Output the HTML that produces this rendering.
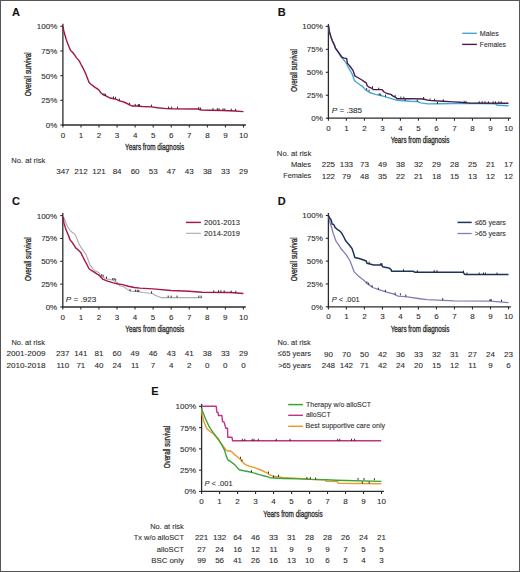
<!DOCTYPE html><html><head><meta charset="utf-8"><style>html,body{margin:0;padding:0;background:#fff;}svg{display:block;}text{stroke:#2e2e2e;stroke-width:0.1px;}</style></head><body>
<svg width="520" height="572" viewBox="0 0 520 572" font-family='"Liberation Sans", sans-serif'>
<rect x="0" y="0" width="520" height="572" fill="#fff"/>
<text x="12" y="15.9" font-size="11" font-weight="bold" fill="#111">A</text>
<line x1="62.9" y1="23.8" x2="62.9" y2="125.6" stroke="#2b2b2b" stroke-width="1.3"/>
<line x1="62.3" y1="125.0" x2="245.9" y2="125.0" stroke="#2b2b2b" stroke-width="1.3"/>
<line x1="60.3" y1="26.30" x2="62.9" y2="26.30" stroke="#2b2b2b" stroke-width="1.1"/>
<text x="57.3" y="29.2" font-size="8" text-anchor="end" fill="#2e2e2e">100%</text>
<line x1="60.3" y1="50.98" x2="62.9" y2="50.98" stroke="#2b2b2b" stroke-width="1.1"/>
<text x="57.3" y="53.88" font-size="8" text-anchor="end" fill="#2e2e2e">75%</text>
<line x1="60.3" y1="75.65" x2="62.9" y2="75.65" stroke="#2b2b2b" stroke-width="1.1"/>
<text x="57.3" y="78.55" font-size="8" text-anchor="end" fill="#2e2e2e">50%</text>
<line x1="60.3" y1="100.33" x2="62.9" y2="100.33" stroke="#2b2b2b" stroke-width="1.1"/>
<text x="57.3" y="103.23" font-size="8" text-anchor="end" fill="#2e2e2e">25%</text>
<line x1="60.3" y1="125.00" x2="62.9" y2="125.00" stroke="#2b2b2b" stroke-width="1.1"/>
<text x="57.3" y="127.9" font-size="8" text-anchor="end" fill="#2e2e2e">0%</text>
<line x1="62.90" y1="125.0" x2="62.90" y2="127.6" stroke="#2b2b2b" stroke-width="1.1"/>
<text x="62.9" y="137.6" font-size="8" text-anchor="middle" fill="#2e2e2e">0</text>
<line x1="80.96" y1="125.0" x2="80.96" y2="127.6" stroke="#2b2b2b" stroke-width="1.1"/>
<text x="80.96" y="137.6" font-size="8" text-anchor="middle" fill="#2e2e2e">1</text>
<line x1="99.02" y1="125.0" x2="99.02" y2="127.6" stroke="#2b2b2b" stroke-width="1.1"/>
<text x="99.02" y="137.6" font-size="8" text-anchor="middle" fill="#2e2e2e">2</text>
<line x1="117.08" y1="125.0" x2="117.08" y2="127.6" stroke="#2b2b2b" stroke-width="1.1"/>
<text x="117.08" y="137.6" font-size="8" text-anchor="middle" fill="#2e2e2e">3</text>
<line x1="135.14" y1="125.0" x2="135.14" y2="127.6" stroke="#2b2b2b" stroke-width="1.1"/>
<text x="135.14" y="137.6" font-size="8" text-anchor="middle" fill="#2e2e2e">4</text>
<line x1="153.20" y1="125.0" x2="153.20" y2="127.6" stroke="#2b2b2b" stroke-width="1.1"/>
<text x="153.2" y="137.6" font-size="8" text-anchor="middle" fill="#2e2e2e">5</text>
<line x1="171.26" y1="125.0" x2="171.26" y2="127.6" stroke="#2b2b2b" stroke-width="1.1"/>
<text x="171.26" y="137.6" font-size="8" text-anchor="middle" fill="#2e2e2e">6</text>
<line x1="189.32" y1="125.0" x2="189.32" y2="127.6" stroke="#2b2b2b" stroke-width="1.1"/>
<text x="189.32" y="137.6" font-size="8" text-anchor="middle" fill="#2e2e2e">7</text>
<line x1="207.38" y1="125.0" x2="207.38" y2="127.6" stroke="#2b2b2b" stroke-width="1.1"/>
<text x="207.38" y="137.6" font-size="8" text-anchor="middle" fill="#2e2e2e">8</text>
<line x1="225.44" y1="125.0" x2="225.44" y2="127.6" stroke="#2b2b2b" stroke-width="1.1"/>
<text x="225.44" y="137.6" font-size="8" text-anchor="middle" fill="#2e2e2e">9</text>
<line x1="243.50" y1="125.0" x2="243.50" y2="127.6" stroke="#2b2b2b" stroke-width="1.1"/>
<text x="243.5" y="137.6" font-size="8" text-anchor="middle" fill="#2e2e2e">10</text>
<text x="125.06" y="150.2" font-size="9.3" textLength="59.17" lengthAdjust="spacingAndGlyphs" fill="#2e2e2e" style="stroke-width:0.35px">Years from diagnosis</text>
<text transform="translate(30.8,96) rotate(-90)" x="-0.30" y="0" font-size="9.3" textLength="44.03" lengthAdjust="spacingAndGlyphs" fill="#2e2e2e" style="stroke-width:0.35px">Overall survival</text>
<polyline points="63.00,26.50 63.40,28.50 63.70,30.70 64.80,34.50 66.30,39.80 67.70,43.60 69.10,47.00 70.60,50.40 72.50,52.30 74.40,54.70 76.30,57.60 79.20,60.90 81.20,64.80 83.10,68.20 85.80,73.90 89.10,82.60 90.60,84.00 94.40,86.90 98.80,89.80 100.70,92.70 103.10,94.60 106.90,96.30 109.80,98.00 112.70,98.50 116.50,99.40 119.40,100.90 123.30,101.80 125.00,102.50 129.60,104.80 131.90,106.00 136.50,106.00 142.30,106.50 151.50,106.90 157.30,107.70 166.50,108.60 171.10,108.80 197.50,109.00 201.30,110.00 210.00,110.25 222.50,110.50 235.00,111.00 243.50,111.60" fill="none" stroke="#a0183f" stroke-width="1.4" stroke-linejoin="round" stroke-linecap="butt"/>
<line x1="104" y1="95.3" x2="104" y2="93.3" stroke="#1a1a1a" stroke-width="0.9"/>
<line x1="105.5" y1="95.9" x2="105.5" y2="93.9" stroke="#1a1a1a" stroke-width="0.9"/>
<line x1="113.5" y1="98.4" x2="113.5" y2="96.4" stroke="#1a1a1a" stroke-width="0.9"/>
<line x1="115.5" y1="98.8" x2="115.5" y2="96.8" stroke="#1a1a1a" stroke-width="0.9"/>
<line x1="119.4" y1="100.6" x2="119.4" y2="98.6" stroke="#1a1a1a" stroke-width="0.9"/>
<line x1="129.6" y1="104.6" x2="129.6" y2="102.6" stroke="#1a1a1a" stroke-width="0.9"/>
<line x1="135.2" y1="105.9" x2="135.2" y2="103.9" stroke="#1a1a1a" stroke-width="0.9"/>
<line x1="138.3" y1="106" x2="138.3" y2="104.0" stroke="#1a1a1a" stroke-width="0.9"/>
<line x1="139.4" y1="106.1" x2="139.4" y2="104.1" stroke="#1a1a1a" stroke-width="0.9"/>
<line x1="151.5" y1="106.7" x2="151.5" y2="104.7" stroke="#1a1a1a" stroke-width="0.9"/>
<line x1="168.6" y1="108.5" x2="168.6" y2="106.5" stroke="#1a1a1a" stroke-width="0.9"/>
<line x1="171.7" y1="108.6" x2="171.7" y2="106.6" stroke="#1a1a1a" stroke-width="0.9"/>
<line x1="177.5" y1="108.7" x2="177.5" y2="106.7" stroke="#1a1a1a" stroke-width="0.9"/>
<line x1="198.8" y1="109" x2="198.8" y2="107.0" stroke="#1a1a1a" stroke-width="0.9"/>
<line x1="200.6" y1="109.5" x2="200.6" y2="107.5" stroke="#1a1a1a" stroke-width="0.9"/>
<line x1="213" y1="110.1" x2="213" y2="108.1" stroke="#1a1a1a" stroke-width="0.9"/>
<line x1="217.3" y1="110.2" x2="217.3" y2="108.2" stroke="#1a1a1a" stroke-width="0.9"/>
<line x1="219" y1="110.2" x2="219" y2="108.2" stroke="#1a1a1a" stroke-width="0.9"/>
<line x1="223" y1="110.3" x2="223" y2="108.3" stroke="#1a1a1a" stroke-width="0.9"/>
<line x1="224.8" y1="110.4" x2="224.8" y2="108.4" stroke="#1a1a1a" stroke-width="0.9"/>
<line x1="231.3" y1="110.7" x2="231.3" y2="108.7" stroke="#1a1a1a" stroke-width="0.9"/>
<line x1="235.6" y1="110.9" x2="235.6" y2="108.9" stroke="#1a1a1a" stroke-width="0.9"/>
<text x="11.28" y="162.7" font-size="8" textLength="34.11" lengthAdjust="spacingAndGlyphs" fill="#2e2e2e">No. at risk</text>
<text x="62.9" y="174.2" font-size="8" text-anchor="middle" fill="#2e2e2e">347</text>
<text x="80.96" y="174.2" font-size="8" text-anchor="middle" fill="#2e2e2e">212</text>
<text x="99.02" y="174.2" font-size="8" text-anchor="middle" fill="#2e2e2e">121</text>
<text x="117.08" y="174.2" font-size="8" text-anchor="middle" fill="#2e2e2e">84</text>
<text x="135.14" y="174.2" font-size="8" text-anchor="middle" fill="#2e2e2e">60</text>
<text x="153.2" y="174.2" font-size="8" text-anchor="middle" fill="#2e2e2e">53</text>
<text x="171.26" y="174.2" font-size="8" text-anchor="middle" fill="#2e2e2e">47</text>
<text x="189.32" y="174.2" font-size="8" text-anchor="middle" fill="#2e2e2e">43</text>
<text x="207.38" y="174.2" font-size="8" text-anchor="middle" fill="#2e2e2e">38</text>
<text x="225.44" y="174.2" font-size="8" text-anchor="middle" fill="#2e2e2e">33</text>
<text x="243.5" y="174.2" font-size="8" text-anchor="middle" fill="#2e2e2e">29</text>
<text x="277.8" y="16.1" font-size="11" font-weight="bold" fill="#111">B</text>
<line x1="328.4" y1="23.9" x2="328.4" y2="118.8" stroke="#2b2b2b" stroke-width="1.3"/>
<line x1="327.79999999999995" y1="118.2" x2="510.9" y2="118.2" stroke="#2b2b2b" stroke-width="1.3"/>
<line x1="325.79999999999995" y1="26.40" x2="328.4" y2="26.40" stroke="#2b2b2b" stroke-width="1.1"/>
<text x="322.8" y="29.3" font-size="8" text-anchor="end" fill="#2e2e2e">100%</text>
<line x1="325.79999999999995" y1="49.35" x2="328.4" y2="49.35" stroke="#2b2b2b" stroke-width="1.1"/>
<text x="322.8" y="52.25" font-size="8" text-anchor="end" fill="#2e2e2e">75%</text>
<line x1="325.79999999999995" y1="72.30" x2="328.4" y2="72.30" stroke="#2b2b2b" stroke-width="1.1"/>
<text x="322.8" y="75.2" font-size="8" text-anchor="end" fill="#2e2e2e">50%</text>
<line x1="325.79999999999995" y1="95.25" x2="328.4" y2="95.25" stroke="#2b2b2b" stroke-width="1.1"/>
<text x="322.8" y="98.15" font-size="8" text-anchor="end" fill="#2e2e2e">25%</text>
<line x1="325.79999999999995" y1="118.20" x2="328.4" y2="118.20" stroke="#2b2b2b" stroke-width="1.1"/>
<text x="322.8" y="121.1" font-size="8" text-anchor="end" fill="#2e2e2e">0%</text>
<line x1="328.40" y1="118.2" x2="328.40" y2="120.8" stroke="#2b2b2b" stroke-width="1.1"/>
<text x="328.4" y="130.8" font-size="8" text-anchor="middle" fill="#2e2e2e">0</text>
<line x1="346.41" y1="118.2" x2="346.41" y2="120.8" stroke="#2b2b2b" stroke-width="1.1"/>
<text x="346.41" y="130.8" font-size="8" text-anchor="middle" fill="#2e2e2e">1</text>
<line x1="364.42" y1="118.2" x2="364.42" y2="120.8" stroke="#2b2b2b" stroke-width="1.1"/>
<text x="364.42" y="130.8" font-size="8" text-anchor="middle" fill="#2e2e2e">2</text>
<line x1="382.43" y1="118.2" x2="382.43" y2="120.8" stroke="#2b2b2b" stroke-width="1.1"/>
<text x="382.43" y="130.8" font-size="8" text-anchor="middle" fill="#2e2e2e">3</text>
<line x1="400.44" y1="118.2" x2="400.44" y2="120.8" stroke="#2b2b2b" stroke-width="1.1"/>
<text x="400.44" y="130.8" font-size="8" text-anchor="middle" fill="#2e2e2e">4</text>
<line x1="418.45" y1="118.2" x2="418.45" y2="120.8" stroke="#2b2b2b" stroke-width="1.1"/>
<text x="418.45" y="130.8" font-size="8" text-anchor="middle" fill="#2e2e2e">5</text>
<line x1="436.46" y1="118.2" x2="436.46" y2="120.8" stroke="#2b2b2b" stroke-width="1.1"/>
<text x="436.46" y="130.8" font-size="8" text-anchor="middle" fill="#2e2e2e">6</text>
<line x1="454.47" y1="118.2" x2="454.47" y2="120.8" stroke="#2b2b2b" stroke-width="1.1"/>
<text x="454.47" y="130.8" font-size="8" text-anchor="middle" fill="#2e2e2e">7</text>
<line x1="472.48" y1="118.2" x2="472.48" y2="120.8" stroke="#2b2b2b" stroke-width="1.1"/>
<text x="472.48" y="130.8" font-size="8" text-anchor="middle" fill="#2e2e2e">8</text>
<line x1="490.49" y1="118.2" x2="490.49" y2="120.8" stroke="#2b2b2b" stroke-width="1.1"/>
<text x="490.49" y="130.8" font-size="8" text-anchor="middle" fill="#2e2e2e">9</text>
<line x1="508.50" y1="118.2" x2="508.50" y2="120.8" stroke="#2b2b2b" stroke-width="1.1"/>
<text x="508.5" y="130.8" font-size="8" text-anchor="middle" fill="#2e2e2e">10</text>
<text x="390.66" y="143.2" font-size="9.3" textLength="58.77" lengthAdjust="spacingAndGlyphs" fill="#2e2e2e" style="stroke-width:0.35px">Years from diagnosis</text>
<text transform="translate(296.9,91.5) rotate(-90)" x="-0.29" y="0" font-size="9.3" textLength="42.60" lengthAdjust="spacingAndGlyphs" fill="#2e2e2e" style="stroke-width:0.35px">Overall survival</text>
<polyline points="328.60,26.00 329.20,31.50 330.80,36.40 332.30,40.75 334.20,44.60 335.60,48.40 337.50,51.50 340.00,55.50 342.50,58.50 344.50,60.80 346.20,63.20 348.50,67.70 351.90,73.50 354.20,79.80 355.40,81.50 360.00,84.80 362.90,86.70 365.80,90.10 369.60,92.50 375.40,94.40 382.10,95.90 388.80,97.80 396.50,100.20 403.30,100.70 410.00,101.20 417.30,101.50 420.80,102.90 427.70,103.90 440.00,103.80 453.00,103.60 480.00,103.50 495.00,103.70 497.50,105.30 508.50,105.70" fill="none" stroke="#40a8da" stroke-width="1.4" stroke-linejoin="round" stroke-linecap="butt"/>
<polyline points="328.60,26.00 329.40,31.60 330.80,36.40 332.30,40.75 334.20,44.60 335.60,48.40 337.50,50.80 339.90,54.20 341.90,57.10 344.30,58.10 346.70,58.50 347.30,63.10 350.20,66.50 353.10,70.60 354.80,75.80 357.70,77.50 361.90,80.00 363.80,81.40 366.30,82.90 367.20,85.80 369.10,87.20 371.50,88.20 373.50,89.60 382.10,89.60 384.00,92.00 386.90,93.50 390.80,94.40 392.70,95.90 395.60,97.30 397.00,98.75 410.00,98.60 423.00,99.00 428.80,100.40 442.70,101.30 453.00,101.90 460.00,102.30 470.00,103.10 508.50,103.30" fill="none" stroke="#4a1c4c" stroke-width="1.4" stroke-linejoin="round" stroke-linecap="butt"/>
<line x1="372.5" y1="88.2" x2="372.5" y2="86.2" stroke="#1a1a1a" stroke-width="0.9"/>
<line x1="378.75" y1="89.6" x2="378.75" y2="87.6" stroke="#1a1a1a" stroke-width="0.9"/>
<line x1="395.1" y1="96.9" x2="395.1" y2="94.9" stroke="#1a1a1a" stroke-width="0.9"/>
<line x1="400.9" y1="98.5" x2="400.9" y2="96.5" stroke="#1a1a1a" stroke-width="0.9"/>
<line x1="403.8" y1="98.6" x2="403.8" y2="96.6" stroke="#1a1a1a" stroke-width="0.9"/>
<line x1="423.6" y1="99" x2="423.6" y2="97.0" stroke="#1a1a1a" stroke-width="0.9"/>
<line x1="430" y1="100.4" x2="430" y2="98.4" stroke="#1a1a1a" stroke-width="0.9"/>
<line x1="434.6" y1="100.7" x2="434.6" y2="98.7" stroke="#1a1a1a" stroke-width="0.9"/>
<line x1="443.3" y1="101.3" x2="443.3" y2="99.3" stroke="#1a1a1a" stroke-width="0.9"/>
<line x1="464.2" y1="102.8" x2="464.2" y2="100.8" stroke="#1a1a1a" stroke-width="0.9"/>
<line x1="466" y1="102.9" x2="466" y2="100.9" stroke="#1a1a1a" stroke-width="0.9"/>
<line x1="479.2" y1="103.2" x2="479.2" y2="101.2" stroke="#1a1a1a" stroke-width="0.9"/>
<line x1="482.1" y1="103.2" x2="482.1" y2="101.2" stroke="#1a1a1a" stroke-width="0.9"/>
<line x1="485" y1="103.2" x2="485" y2="101.2" stroke="#1a1a1a" stroke-width="0.9"/>
<line x1="488.4" y1="103.3" x2="488.4" y2="101.3" stroke="#1a1a1a" stroke-width="0.9"/>
<line x1="493.1" y1="103.3" x2="493.1" y2="101.3" stroke="#1a1a1a" stroke-width="0.9"/>
<line x1="495.4" y1="103.3" x2="495.4" y2="101.3" stroke="#1a1a1a" stroke-width="0.9"/>
<line x1="498.8" y1="103.3" x2="498.8" y2="101.3" stroke="#1a1a1a" stroke-width="0.9"/>
<line x1="501.1" y1="103.3" x2="501.1" y2="101.3" stroke="#1a1a1a" stroke-width="0.9"/>
<line x1="366.7" y1="90.1" x2="366.7" y2="88.1" stroke="#1a1a1a" stroke-width="0.9"/>
<line x1="369.1" y1="91.6" x2="369.1" y2="89.6" stroke="#1a1a1a" stroke-width="0.9"/>
<line x1="379.2" y1="95.3" x2="379.2" y2="93.3" stroke="#1a1a1a" stroke-width="0.9"/>
<line x1="380.7" y1="95.6" x2="380.7" y2="93.6" stroke="#1a1a1a" stroke-width="0.9"/>
<line x1="385.5" y1="96.7" x2="385.5" y2="94.7" stroke="#1a1a1a" stroke-width="0.9"/>
<line x1="405.2" y1="100.8" x2="405.2" y2="98.8" stroke="#1a1a1a" stroke-width="0.9"/>
<line x1="417.3" y1="101.5" x2="417.3" y2="99.5" stroke="#1a1a1a" stroke-width="0.9"/>
<line x1="437.5" y1="103.8" x2="437.5" y2="101.8" stroke="#1a1a1a" stroke-width="0.9"/>
<line x1="462.2" y1="33.3" x2="476.9" y2="33.3" stroke="#40a8da" stroke-width="1.4"/>
<line x1="462.2" y1="44.4" x2="476.9" y2="44.4" stroke="#4a1c4c" stroke-width="1.4"/>
<text x="479.81" y="35.6" font-size="7.4" textLength="19.04" lengthAdjust="spacingAndGlyphs" fill="#2e2e2e">Males</text>
<text x="479.84" y="46.6" font-size="7.4" textLength="26.1" lengthAdjust="spacingAndGlyphs" fill="#2e2e2e">Females</text>
<text x="331.76" y="112.9" font-size="8" textLength="30.37" lengthAdjust="spacingAndGlyphs" fill="#2e2e2e"><tspan font-style="italic">P</tspan> = .385</text>
<text x="276.87" y="155.5" font-size="8" textLength="34.41" lengthAdjust="spacingAndGlyphs" fill="#2e2e2e">No. at risk</text>
<text x="290.88" y="167.0" font-size="8" textLength="20.19" lengthAdjust="spacingAndGlyphs" fill="#2e2e2e">Males</text>
<text x="283.2" y="178.4" font-size="8" textLength="28.06" lengthAdjust="spacingAndGlyphs" fill="#2e2e2e">Females</text>
<text x="328.4" y="167.1" font-size="8" text-anchor="middle" fill="#2e2e2e">225</text>
<text x="346.41" y="167.1" font-size="8" text-anchor="middle" fill="#2e2e2e">133</text>
<text x="364.42" y="167.1" font-size="8" text-anchor="middle" fill="#2e2e2e">73</text>
<text x="382.43" y="167.1" font-size="8" text-anchor="middle" fill="#2e2e2e">49</text>
<text x="400.44" y="167.1" font-size="8" text-anchor="middle" fill="#2e2e2e">38</text>
<text x="418.45" y="167.1" font-size="8" text-anchor="middle" fill="#2e2e2e">32</text>
<text x="436.46" y="167.1" font-size="8" text-anchor="middle" fill="#2e2e2e">29</text>
<text x="454.47" y="167.1" font-size="8" text-anchor="middle" fill="#2e2e2e">28</text>
<text x="472.48" y="167.1" font-size="8" text-anchor="middle" fill="#2e2e2e">25</text>
<text x="490.49" y="167.1" font-size="8" text-anchor="middle" fill="#2e2e2e">21</text>
<text x="508.5" y="167.1" font-size="8" text-anchor="middle" fill="#2e2e2e">17</text>
<text x="328.4" y="178.5" font-size="8" text-anchor="middle" fill="#2e2e2e">122</text>
<text x="346.41" y="178.5" font-size="8" text-anchor="middle" fill="#2e2e2e">79</text>
<text x="364.42" y="178.5" font-size="8" text-anchor="middle" fill="#2e2e2e">48</text>
<text x="382.43" y="178.5" font-size="8" text-anchor="middle" fill="#2e2e2e">35</text>
<text x="400.44" y="178.5" font-size="8" text-anchor="middle" fill="#2e2e2e">22</text>
<text x="418.45" y="178.5" font-size="8" text-anchor="middle" fill="#2e2e2e">21</text>
<text x="436.46" y="178.5" font-size="8" text-anchor="middle" fill="#2e2e2e">18</text>
<text x="454.47" y="178.5" font-size="8" text-anchor="middle" fill="#2e2e2e">15</text>
<text x="472.48" y="178.5" font-size="8" text-anchor="middle" fill="#2e2e2e">13</text>
<text x="490.49" y="178.5" font-size="8" text-anchor="middle" fill="#2e2e2e">12</text>
<text x="508.5" y="178.5" font-size="8" text-anchor="middle" fill="#2e2e2e">12</text>
<text x="12" y="205.3" font-size="11" font-weight="bold" fill="#111">C</text>
<line x1="62.8" y1="213.1" x2="62.8" y2="307.6" stroke="#2b2b2b" stroke-width="1.3"/>
<line x1="62.199999999999996" y1="307.0" x2="245.8" y2="307.0" stroke="#2b2b2b" stroke-width="1.3"/>
<line x1="60.199999999999996" y1="215.60" x2="62.8" y2="215.60" stroke="#2b2b2b" stroke-width="1.1"/>
<text x="57.2" y="218.5" font-size="8" text-anchor="end" fill="#2e2e2e">100%</text>
<line x1="60.199999999999996" y1="238.45" x2="62.8" y2="238.45" stroke="#2b2b2b" stroke-width="1.1"/>
<text x="57.2" y="241.35" font-size="8" text-anchor="end" fill="#2e2e2e">75%</text>
<line x1="60.199999999999996" y1="261.30" x2="62.8" y2="261.30" stroke="#2b2b2b" stroke-width="1.1"/>
<text x="57.2" y="264.2" font-size="8" text-anchor="end" fill="#2e2e2e">50%</text>
<line x1="60.199999999999996" y1="284.15" x2="62.8" y2="284.15" stroke="#2b2b2b" stroke-width="1.1"/>
<text x="57.2" y="287.05" font-size="8" text-anchor="end" fill="#2e2e2e">25%</text>
<line x1="60.199999999999996" y1="307.00" x2="62.8" y2="307.00" stroke="#2b2b2b" stroke-width="1.1"/>
<text x="57.2" y="309.9" font-size="8" text-anchor="end" fill="#2e2e2e">0%</text>
<line x1="62.80" y1="307.0" x2="62.80" y2="309.6" stroke="#2b2b2b" stroke-width="1.1"/>
<text x="62.8" y="319.6" font-size="8" text-anchor="middle" fill="#2e2e2e">0</text>
<line x1="80.86" y1="307.0" x2="80.86" y2="309.6" stroke="#2b2b2b" stroke-width="1.1"/>
<text x="80.86" y="319.6" font-size="8" text-anchor="middle" fill="#2e2e2e">1</text>
<line x1="98.92" y1="307.0" x2="98.92" y2="309.6" stroke="#2b2b2b" stroke-width="1.1"/>
<text x="98.92" y="319.6" font-size="8" text-anchor="middle" fill="#2e2e2e">2</text>
<line x1="116.98" y1="307.0" x2="116.98" y2="309.6" stroke="#2b2b2b" stroke-width="1.1"/>
<text x="116.98" y="319.6" font-size="8" text-anchor="middle" fill="#2e2e2e">3</text>
<line x1="135.04" y1="307.0" x2="135.04" y2="309.6" stroke="#2b2b2b" stroke-width="1.1"/>
<text x="135.04" y="319.6" font-size="8" text-anchor="middle" fill="#2e2e2e">4</text>
<line x1="153.10" y1="307.0" x2="153.10" y2="309.6" stroke="#2b2b2b" stroke-width="1.1"/>
<text x="153.1" y="319.6" font-size="8" text-anchor="middle" fill="#2e2e2e">5</text>
<line x1="171.16" y1="307.0" x2="171.16" y2="309.6" stroke="#2b2b2b" stroke-width="1.1"/>
<text x="171.16" y="319.6" font-size="8" text-anchor="middle" fill="#2e2e2e">6</text>
<line x1="189.22" y1="307.0" x2="189.22" y2="309.6" stroke="#2b2b2b" stroke-width="1.1"/>
<text x="189.22" y="319.6" font-size="8" text-anchor="middle" fill="#2e2e2e">7</text>
<line x1="207.28" y1="307.0" x2="207.28" y2="309.6" stroke="#2b2b2b" stroke-width="1.1"/>
<text x="207.28" y="319.6" font-size="8" text-anchor="middle" fill="#2e2e2e">8</text>
<line x1="225.34" y1="307.0" x2="225.34" y2="309.6" stroke="#2b2b2b" stroke-width="1.1"/>
<text x="225.34" y="319.6" font-size="8" text-anchor="middle" fill="#2e2e2e">9</text>
<line x1="243.40" y1="307.0" x2="243.40" y2="309.6" stroke="#2b2b2b" stroke-width="1.1"/>
<text x="243.4" y="319.6" font-size="8" text-anchor="middle" fill="#2e2e2e">10</text>
<text x="125.36" y="332.3" font-size="9.3" textLength="58.77" lengthAdjust="spacingAndGlyphs" fill="#2e2e2e" style="stroke-width:0.35px">Years from diagnosis</text>
<text transform="translate(30.8,280.6) rotate(-90)" x="-0.30" y="0" font-size="9.3" textLength="43.62" lengthAdjust="spacingAndGlyphs" fill="#2e2e2e" style="stroke-width:0.35px">Overall survival</text>
<polyline points="63.10,216.00 64.80,219.70 67.20,226.00 69.60,229.80 72.00,232.20 74.90,234.10 77.00,239.00 79.60,245.10 83.10,250.40 85.70,253.90 87.50,258.20 90.10,265.20 92.70,268.70 95.00,270.90 98.90,272.40 100.80,276.20 105.60,278.60 112.30,280.00 117.10,282.40 120.00,285.80 123.80,286.80 127.70,289.60 130.60,291.10 138.30,291.60 143.10,292.50 152.50,293.50 155.00,295.30 160.80,297.60 202.30,297.60" fill="none" stroke="#ababab" stroke-width="1.1" stroke-linejoin="round" stroke-linecap="butt"/>
<polyline points="63.10,216.50 63.80,222.60 65.30,227.40 66.70,231.20 68.70,236.00 70.10,239.90 72.50,242.80 75.90,248.10 78.30,250.00 80.70,252.40 83.10,257.20 84.60,260.40 86.40,263.50 89.20,269.00 93.80,271.90 98.50,274.80 103.10,279.40 107.70,281.10 113.40,282.90 118.10,284.00 122.70,284.60 128.40,286.30 134.20,287.50 140.00,288.10 153.00,288.90 171.00,290.50 189.00,291.20 202.00,292.30 230.00,292.50 243.40,293.50" fill="none" stroke="#aa1841" stroke-width="1.45" stroke-linejoin="round" stroke-linecap="butt"/>
<line x1="101.7" y1="276.2" x2="101.7" y2="274.2" stroke="#1a1a1a" stroke-width="0.9"/>
<line x1="103.2" y1="276.8" x2="103.2" y2="274.8" stroke="#1a1a1a" stroke-width="0.9"/>
<line x1="106.5" y1="278.6" x2="106.5" y2="276.6" stroke="#1a1a1a" stroke-width="0.9"/>
<line x1="112.8" y1="280" x2="112.8" y2="278.0" stroke="#1a1a1a" stroke-width="0.9"/>
<line x1="114.2" y1="280.1" x2="114.2" y2="278.1" stroke="#1a1a1a" stroke-width="0.9"/>
<line x1="115.7" y1="280.8" x2="115.7" y2="278.8" stroke="#1a1a1a" stroke-width="0.9"/>
<line x1="130.1" y1="291.2" x2="130.1" y2="289.2" stroke="#1a1a1a" stroke-width="0.9"/>
<line x1="135.4" y1="291.7" x2="135.4" y2="289.7" stroke="#1a1a1a" stroke-width="0.9"/>
<line x1="137.3" y1="291.8" x2="137.3" y2="289.8" stroke="#1a1a1a" stroke-width="0.9"/>
<line x1="138.8" y1="291.9" x2="138.8" y2="289.9" stroke="#1a1a1a" stroke-width="0.9"/>
<line x1="151.5" y1="293.4" x2="151.5" y2="291.4" stroke="#1a1a1a" stroke-width="0.9"/>
<line x1="168.2" y1="297.6" x2="168.2" y2="295.6" stroke="#1a1a1a" stroke-width="0.9"/>
<line x1="171.2" y1="297.6" x2="171.2" y2="295.6" stroke="#1a1a1a" stroke-width="0.9"/>
<line x1="177" y1="297.6" x2="177" y2="295.6" stroke="#1a1a1a" stroke-width="0.9"/>
<line x1="198.8" y1="297.6" x2="198.8" y2="295.6" stroke="#1a1a1a" stroke-width="0.9"/>
<line x1="201.2" y1="297.6" x2="201.2" y2="295.6" stroke="#1a1a1a" stroke-width="0.9"/>
<line x1="213.8" y1="292.3" x2="213.8" y2="290.3" stroke="#1a1a1a" stroke-width="0.9"/>
<line x1="218.5" y1="292.3" x2="218.5" y2="290.3" stroke="#1a1a1a" stroke-width="0.9"/>
<line x1="220.8" y1="292.3" x2="220.8" y2="290.3" stroke="#1a1a1a" stroke-width="0.9"/>
<line x1="224.2" y1="292.4" x2="224.2" y2="290.4" stroke="#1a1a1a" stroke-width="0.9"/>
<line x1="231.2" y1="292.6" x2="231.2" y2="290.6" stroke="#1a1a1a" stroke-width="0.9"/>
<line x1="235.8" y1="292.9" x2="235.8" y2="290.9" stroke="#1a1a1a" stroke-width="0.9"/>
<line x1="186" y1="222.4" x2="200.9" y2="222.4" stroke="#aa1841" stroke-width="1.45"/>
<line x1="186" y1="233.3" x2="200.9" y2="233.3" stroke="#ababab" stroke-width="1.1"/>
<text x="204.13" y="224.8" font-size="7.4" textLength="35.8" lengthAdjust="spacingAndGlyphs" fill="#2e2e2e">2001-2013</text>
<text x="204.13" y="235.6" font-size="7.4" textLength="35.83" lengthAdjust="spacingAndGlyphs" fill="#2e2e2e">2014-2019</text>
<text x="65.76" y="302.1" font-size="8" textLength="30.39" lengthAdjust="spacingAndGlyphs" fill="#2e2e2e"><tspan font-style="italic">P</tspan> = .923</text>
<text x="11.39" y="344.7" font-size="8" textLength="33.5" lengthAdjust="spacingAndGlyphs" fill="#2e2e2e">No. at risk</text>
<text x="6.49" y="356.2" font-size="8" textLength="38.99" lengthAdjust="spacingAndGlyphs" fill="#2e2e2e">2001-2009</text>
<text x="6.49" y="367.8" font-size="8" textLength="38.96" lengthAdjust="spacingAndGlyphs" fill="#2e2e2e">2010-2018</text>
<text x="62.8" y="356.2" font-size="8" text-anchor="middle" fill="#2e2e2e">237</text>
<text x="80.86" y="356.2" font-size="8" text-anchor="middle" fill="#2e2e2e">141</text>
<text x="98.92" y="356.2" font-size="8" text-anchor="middle" fill="#2e2e2e">81</text>
<text x="116.98" y="356.2" font-size="8" text-anchor="middle" fill="#2e2e2e">60</text>
<text x="135.04" y="356.2" font-size="8" text-anchor="middle" fill="#2e2e2e">49</text>
<text x="153.1" y="356.2" font-size="8" text-anchor="middle" fill="#2e2e2e">46</text>
<text x="171.16" y="356.2" font-size="8" text-anchor="middle" fill="#2e2e2e">43</text>
<text x="189.22" y="356.2" font-size="8" text-anchor="middle" fill="#2e2e2e">41</text>
<text x="207.28" y="356.2" font-size="8" text-anchor="middle" fill="#2e2e2e">38</text>
<text x="225.34" y="356.2" font-size="8" text-anchor="middle" fill="#2e2e2e">33</text>
<text x="243.4" y="356.2" font-size="8" text-anchor="middle" fill="#2e2e2e">29</text>
<text x="62.8" y="367.8" font-size="8" text-anchor="middle" fill="#2e2e2e">110</text>
<text x="80.86" y="367.8" font-size="8" text-anchor="middle" fill="#2e2e2e">71</text>
<text x="98.92" y="367.8" font-size="8" text-anchor="middle" fill="#2e2e2e">40</text>
<text x="116.98" y="367.8" font-size="8" text-anchor="middle" fill="#2e2e2e">24</text>
<text x="135.04" y="367.8" font-size="8" text-anchor="middle" fill="#2e2e2e">11</text>
<text x="153.1" y="367.8" font-size="8" text-anchor="middle" fill="#2e2e2e">7</text>
<text x="171.16" y="367.8" font-size="8" text-anchor="middle" fill="#2e2e2e">4</text>
<text x="189.22" y="367.8" font-size="8" text-anchor="middle" fill="#2e2e2e">2</text>
<text x="207.28" y="367.8" font-size="8" text-anchor="middle" fill="#2e2e2e">0</text>
<text x="225.34" y="367.8" font-size="8" text-anchor="middle" fill="#2e2e2e">0</text>
<text x="243.4" y="367.8" font-size="8" text-anchor="middle" fill="#2e2e2e">0</text>
<text x="277.8" y="205.3" font-size="11" font-weight="bold" fill="#111">D</text>
<line x1="328.4" y1="213.0" x2="328.4" y2="307.40000000000003" stroke="#2b2b2b" stroke-width="1.3"/>
<line x1="327.79999999999995" y1="306.8" x2="510.9" y2="306.8" stroke="#2b2b2b" stroke-width="1.3"/>
<line x1="325.79999999999995" y1="215.50" x2="328.4" y2="215.50" stroke="#2b2b2b" stroke-width="1.1"/>
<text x="322.8" y="218.4" font-size="8" text-anchor="end" fill="#2e2e2e">100%</text>
<line x1="325.79999999999995" y1="238.32" x2="328.4" y2="238.32" stroke="#2b2b2b" stroke-width="1.1"/>
<text x="322.8" y="241.22" font-size="8" text-anchor="end" fill="#2e2e2e">75%</text>
<line x1="325.79999999999995" y1="261.15" x2="328.4" y2="261.15" stroke="#2b2b2b" stroke-width="1.1"/>
<text x="322.8" y="264.05" font-size="8" text-anchor="end" fill="#2e2e2e">50%</text>
<line x1="325.79999999999995" y1="283.98" x2="328.4" y2="283.98" stroke="#2b2b2b" stroke-width="1.1"/>
<text x="322.8" y="286.88" font-size="8" text-anchor="end" fill="#2e2e2e">25%</text>
<line x1="325.79999999999995" y1="306.80" x2="328.4" y2="306.80" stroke="#2b2b2b" stroke-width="1.1"/>
<text x="322.8" y="309.7" font-size="8" text-anchor="end" fill="#2e2e2e">0%</text>
<line x1="328.40" y1="306.8" x2="328.40" y2="309.40000000000003" stroke="#2b2b2b" stroke-width="1.1"/>
<text x="328.4" y="319.4" font-size="8" text-anchor="middle" fill="#2e2e2e">0</text>
<line x1="346.41" y1="306.8" x2="346.41" y2="309.40000000000003" stroke="#2b2b2b" stroke-width="1.1"/>
<text x="346.41" y="319.4" font-size="8" text-anchor="middle" fill="#2e2e2e">1</text>
<line x1="364.42" y1="306.8" x2="364.42" y2="309.40000000000003" stroke="#2b2b2b" stroke-width="1.1"/>
<text x="364.42" y="319.4" font-size="8" text-anchor="middle" fill="#2e2e2e">2</text>
<line x1="382.43" y1="306.8" x2="382.43" y2="309.40000000000003" stroke="#2b2b2b" stroke-width="1.1"/>
<text x="382.43" y="319.4" font-size="8" text-anchor="middle" fill="#2e2e2e">3</text>
<line x1="400.44" y1="306.8" x2="400.44" y2="309.40000000000003" stroke="#2b2b2b" stroke-width="1.1"/>
<text x="400.44" y="319.4" font-size="8" text-anchor="middle" fill="#2e2e2e">4</text>
<line x1="418.45" y1="306.8" x2="418.45" y2="309.40000000000003" stroke="#2b2b2b" stroke-width="1.1"/>
<text x="418.45" y="319.4" font-size="8" text-anchor="middle" fill="#2e2e2e">5</text>
<line x1="436.46" y1="306.8" x2="436.46" y2="309.40000000000003" stroke="#2b2b2b" stroke-width="1.1"/>
<text x="436.46" y="319.4" font-size="8" text-anchor="middle" fill="#2e2e2e">6</text>
<line x1="454.47" y1="306.8" x2="454.47" y2="309.40000000000003" stroke="#2b2b2b" stroke-width="1.1"/>
<text x="454.47" y="319.4" font-size="8" text-anchor="middle" fill="#2e2e2e">7</text>
<line x1="472.48" y1="306.8" x2="472.48" y2="309.40000000000003" stroke="#2b2b2b" stroke-width="1.1"/>
<text x="472.48" y="319.4" font-size="8" text-anchor="middle" fill="#2e2e2e">8</text>
<line x1="490.49" y1="306.8" x2="490.49" y2="309.40000000000003" stroke="#2b2b2b" stroke-width="1.1"/>
<text x="490.49" y="319.4" font-size="8" text-anchor="middle" fill="#2e2e2e">9</text>
<line x1="508.50" y1="306.8" x2="508.50" y2="309.40000000000003" stroke="#2b2b2b" stroke-width="1.1"/>
<text x="508.5" y="319.4" font-size="8" text-anchor="middle" fill="#2e2e2e">10</text>
<text x="390.66" y="332.3" font-size="9.3" textLength="58.77" lengthAdjust="spacingAndGlyphs" fill="#2e2e2e" style="stroke-width:0.35px">Years from diagnosis</text>
<text transform="translate(296.9,281) rotate(-90)" x="-0.30" y="0" font-size="9.3" textLength="44.03" lengthAdjust="spacingAndGlyphs" fill="#2e2e2e" style="stroke-width:0.35px">Overall survival</text>
<polyline points="328.70,215.80 329.40,219.70 330.30,223.50 331.80,228.30 333.20,233.20 334.70,237.50 336.10,241.30 338.50,244.70 340.90,248.50 343.30,251.40 346.20,254.80 348.10,257.70 350.00,261.00 352.00,266.00 354.20,271.90 357.70,275.40 363.50,280.00 366.90,283.40 372.70,287.50 379.60,289.80 386.50,292.10 393.40,293.80 398.00,296.10 405.00,296.70 409.00,297.20 418.00,298.50 427.00,299.70 454.00,300.90 490.00,301.10 500.00,301.80 508.50,302.70" fill="none" stroke="#857bb8" stroke-width="1.3" stroke-linejoin="round" stroke-linecap="butt"/>
<polyline points="328.70,215.80 329.40,217.80 330.80,219.20 331.60,221.60 332.00,224.00 333.70,224.50 335.10,227.40 336.60,228.80 339.50,230.80 341.40,232.70 343.80,237.00 345.70,240.80 349.10,244.70 352.00,248.50 353.70,253.50 354.80,257.50 360.00,258.70 366.30,261.00 366.90,263.30 373.80,265.00 381.90,265.00 382.50,266.70 388.80,267.90 391.10,269.60 391.70,271.30 413.00,271.30 415.00,272.20 463.00,272.20 465.00,274.50 508.50,274.50" fill="none" stroke="#1d3459" stroke-width="1.5" stroke-linejoin="round" stroke-linecap="butt"/>
<line x1="369.2" y1="263.6" x2="369.2" y2="261.6" stroke="#1a1a1a" stroke-width="0.9"/>
<line x1="380.8" y1="265" x2="380.8" y2="263.0" stroke="#1a1a1a" stroke-width="0.9"/>
<line x1="381.9" y1="265" x2="381.9" y2="263.0" stroke="#1a1a1a" stroke-width="0.9"/>
<line x1="403.5" y1="271.3" x2="403.5" y2="269.3" stroke="#1a1a1a" stroke-width="0.9"/>
<line x1="417.3" y1="272.2" x2="417.3" y2="270.2" stroke="#1a1a1a" stroke-width="0.9"/>
<line x1="434.2" y1="272.2" x2="434.2" y2="270.2" stroke="#1a1a1a" stroke-width="0.9"/>
<line x1="437" y1="272.2" x2="437" y2="270.2" stroke="#1a1a1a" stroke-width="0.9"/>
<line x1="463.5" y1="272.6" x2="463.5" y2="270.6" stroke="#1a1a1a" stroke-width="0.9"/>
<line x1="467" y1="274.5" x2="467" y2="272.5" stroke="#1a1a1a" stroke-width="0.9"/>
<line x1="479.2" y1="274.5" x2="479.2" y2="272.5" stroke="#1a1a1a" stroke-width="0.9"/>
<line x1="483.5" y1="274.5" x2="483.5" y2="272.5" stroke="#1a1a1a" stroke-width="0.9"/>
<line x1="485.4" y1="274.5" x2="485.4" y2="272.5" stroke="#1a1a1a" stroke-width="0.9"/>
<line x1="497" y1="274.5" x2="497" y2="272.5" stroke="#1a1a1a" stroke-width="0.9"/>
<line x1="366.9" y1="283.4" x2="366.9" y2="281.4" stroke="#1a1a1a" stroke-width="0.9"/>
<line x1="368.6" y1="284.6" x2="368.6" y2="282.6" stroke="#1a1a1a" stroke-width="0.9"/>
<line x1="372.1" y1="287.2" x2="372.1" y2="285.2" stroke="#1a1a1a" stroke-width="0.9"/>
<line x1="378.4" y1="289.6" x2="378.4" y2="287.6" stroke="#1a1a1a" stroke-width="0.9"/>
<line x1="385.4" y1="291.8" x2="385.4" y2="289.8" stroke="#1a1a1a" stroke-width="0.9"/>
<line x1="395.2" y1="294.6" x2="395.2" y2="292.6" stroke="#1a1a1a" stroke-width="0.9"/>
<line x1="400.4" y1="295.3" x2="400.4" y2="293.3" stroke="#1a1a1a" stroke-width="0.9"/>
<line x1="405.8" y1="296.5" x2="405.8" y2="294.5" stroke="#1a1a1a" stroke-width="0.9"/>
<line x1="442.7" y1="300.2" x2="442.7" y2="298.2" stroke="#1a1a1a" stroke-width="0.9"/>
<line x1="490" y1="301.1" x2="490" y2="299.1" stroke="#1a1a1a" stroke-width="0.9"/>
<line x1="491.2" y1="301.1" x2="491.2" y2="299.1" stroke="#1a1a1a" stroke-width="0.9"/>
<line x1="501.5" y1="301.7" x2="501.5" y2="299.7" stroke="#1a1a1a" stroke-width="0.9"/>
<line x1="457.5" y1="222.4" x2="471.7" y2="222.4" stroke="#1d3459" stroke-width="1.5"/>
<line x1="457.5" y1="233.5" x2="471.7" y2="233.5" stroke="#857bb8" stroke-width="1.3"/>
<text x="474.79" y="224.5" font-size="7.4" textLength="31.07" lengthAdjust="spacingAndGlyphs" fill="#2e2e2e">&#8804;65 years</text>
<text x="474.65" y="235.5" font-size="7.4" textLength="31.2" lengthAdjust="spacingAndGlyphs" fill="#2e2e2e">&gt;65 years</text>
<text x="331.78" y="301.9" font-size="8" textLength="27.88" lengthAdjust="spacingAndGlyphs" fill="#2e2e2e"><tspan font-style="italic">P</tspan> &lt; .001</text>
<text x="277.49" y="344.7" font-size="8" textLength="33.29" lengthAdjust="spacingAndGlyphs" fill="#2e2e2e">No. at risk</text>
<text x="277.87" y="356.2" font-size="8" textLength="33.2" lengthAdjust="spacingAndGlyphs" fill="#2e2e2e">&#8804;65 years</text>
<text x="278.13" y="367.8" font-size="8" textLength="32.94" lengthAdjust="spacingAndGlyphs" fill="#2e2e2e">&gt;65 years</text>
<text x="328.4" y="356.5" font-size="8" text-anchor="middle" fill="#2e2e2e">90</text>
<text x="346.41" y="356.5" font-size="8" text-anchor="middle" fill="#2e2e2e">70</text>
<text x="364.42" y="356.5" font-size="8" text-anchor="middle" fill="#2e2e2e">50</text>
<text x="382.43" y="356.5" font-size="8" text-anchor="middle" fill="#2e2e2e">42</text>
<text x="400.44" y="356.5" font-size="8" text-anchor="middle" fill="#2e2e2e">36</text>
<text x="418.45" y="356.5" font-size="8" text-anchor="middle" fill="#2e2e2e">33</text>
<text x="436.46" y="356.5" font-size="8" text-anchor="middle" fill="#2e2e2e">32</text>
<text x="454.47" y="356.5" font-size="8" text-anchor="middle" fill="#2e2e2e">31</text>
<text x="472.48" y="356.5" font-size="8" text-anchor="middle" fill="#2e2e2e">27</text>
<text x="490.49" y="356.5" font-size="8" text-anchor="middle" fill="#2e2e2e">24</text>
<text x="508.5" y="356.5" font-size="8" text-anchor="middle" fill="#2e2e2e">23</text>
<text x="328.4" y="367.8" font-size="8" text-anchor="middle" fill="#2e2e2e">248</text>
<text x="346.41" y="367.8" font-size="8" text-anchor="middle" fill="#2e2e2e">142</text>
<text x="364.42" y="367.8" font-size="8" text-anchor="middle" fill="#2e2e2e">71</text>
<text x="382.43" y="367.8" font-size="8" text-anchor="middle" fill="#2e2e2e">42</text>
<text x="400.44" y="367.8" font-size="8" text-anchor="middle" fill="#2e2e2e">24</text>
<text x="418.45" y="367.8" font-size="8" text-anchor="middle" fill="#2e2e2e">20</text>
<text x="436.46" y="367.8" font-size="8" text-anchor="middle" fill="#2e2e2e">15</text>
<text x="454.47" y="367.8" font-size="8" text-anchor="middle" fill="#2e2e2e">12</text>
<text x="472.48" y="367.8" font-size="8" text-anchor="middle" fill="#2e2e2e">11</text>
<text x="490.49" y="367.8" font-size="8" text-anchor="middle" fill="#2e2e2e">9</text>
<text x="508.5" y="367.8" font-size="8" text-anchor="middle" fill="#2e2e2e">6</text>
<text x="151.3" y="394.7" font-size="11" font-weight="bold" fill="#111">E</text>
<line x1="201.6" y1="403.9" x2="201.6" y2="492.0" stroke="#2b2b2b" stroke-width="1.3"/>
<line x1="201.0" y1="491.4" x2="383.9" y2="491.4" stroke="#2b2b2b" stroke-width="1.3"/>
<line x1="199.0" y1="406.40" x2="201.6" y2="406.40" stroke="#2b2b2b" stroke-width="1.1"/>
<text x="196.0" y="409.3" font-size="8" text-anchor="end" fill="#2e2e2e">100%</text>
<line x1="199.0" y1="427.65" x2="201.6" y2="427.65" stroke="#2b2b2b" stroke-width="1.1"/>
<text x="196.0" y="430.55" font-size="8" text-anchor="end" fill="#2e2e2e">75%</text>
<line x1="199.0" y1="448.90" x2="201.6" y2="448.90" stroke="#2b2b2b" stroke-width="1.1"/>
<text x="196.0" y="451.8" font-size="8" text-anchor="end" fill="#2e2e2e">50%</text>
<line x1="199.0" y1="470.15" x2="201.6" y2="470.15" stroke="#2b2b2b" stroke-width="1.1"/>
<text x="196.0" y="473.05" font-size="8" text-anchor="end" fill="#2e2e2e">25%</text>
<line x1="199.0" y1="491.40" x2="201.6" y2="491.40" stroke="#2b2b2b" stroke-width="1.1"/>
<text x="196.0" y="494.3" font-size="8" text-anchor="end" fill="#2e2e2e">0%</text>
<line x1="201.60" y1="491.4" x2="201.60" y2="494.0" stroke="#2b2b2b" stroke-width="1.1"/>
<text x="201.6" y="504.0" font-size="8" text-anchor="middle" fill="#2e2e2e">0</text>
<line x1="219.59" y1="491.4" x2="219.59" y2="494.0" stroke="#2b2b2b" stroke-width="1.1"/>
<text x="219.59" y="504.0" font-size="8" text-anchor="middle" fill="#2e2e2e">1</text>
<line x1="237.58" y1="491.4" x2="237.58" y2="494.0" stroke="#2b2b2b" stroke-width="1.1"/>
<text x="237.58" y="504.0" font-size="8" text-anchor="middle" fill="#2e2e2e">2</text>
<line x1="255.57" y1="491.4" x2="255.57" y2="494.0" stroke="#2b2b2b" stroke-width="1.1"/>
<text x="255.57" y="504.0" font-size="8" text-anchor="middle" fill="#2e2e2e">3</text>
<line x1="273.56" y1="491.4" x2="273.56" y2="494.0" stroke="#2b2b2b" stroke-width="1.1"/>
<text x="273.56" y="504.0" font-size="8" text-anchor="middle" fill="#2e2e2e">4</text>
<line x1="291.55" y1="491.4" x2="291.55" y2="494.0" stroke="#2b2b2b" stroke-width="1.1"/>
<text x="291.55" y="504.0" font-size="8" text-anchor="middle" fill="#2e2e2e">5</text>
<line x1="309.54" y1="491.4" x2="309.54" y2="494.0" stroke="#2b2b2b" stroke-width="1.1"/>
<text x="309.54" y="504.0" font-size="8" text-anchor="middle" fill="#2e2e2e">6</text>
<line x1="327.53" y1="491.4" x2="327.53" y2="494.0" stroke="#2b2b2b" stroke-width="1.1"/>
<text x="327.53" y="504.0" font-size="8" text-anchor="middle" fill="#2e2e2e">7</text>
<line x1="345.52" y1="491.4" x2="345.52" y2="494.0" stroke="#2b2b2b" stroke-width="1.1"/>
<text x="345.52" y="504.0" font-size="8" text-anchor="middle" fill="#2e2e2e">8</text>
<line x1="363.51" y1="491.4" x2="363.51" y2="494.0" stroke="#2b2b2b" stroke-width="1.1"/>
<text x="363.51" y="504.0" font-size="8" text-anchor="middle" fill="#2e2e2e">9</text>
<line x1="381.50" y1="491.4" x2="381.50" y2="494.0" stroke="#2b2b2b" stroke-width="1.1"/>
<text x="381.5" y="504.0" font-size="8" text-anchor="middle" fill="#2e2e2e">10</text>
<text x="263.36" y="516.5" font-size="9.3" textLength="59.27" lengthAdjust="spacingAndGlyphs" fill="#2e2e2e" style="stroke-width:0.35px">Years from diagnosis</text>
<text transform="translate(169.8,468) rotate(-90)" x="-0.29" y="0" font-size="9.3" textLength="42.50" lengthAdjust="spacingAndGlyphs" fill="#2e2e2e" style="stroke-width:0.35px">Overall survival</text>
<polyline points="201.60,409.70 202.30,415.50 203.80,421.20 205.70,426.00 207.10,428.90 210.50,431.80 213.40,433.70 215.80,436.60 218.70,440.00 221.10,443.30 224.00,447.20 225.90,450.10 228.10,451.00 230.00,451.00 231.50,451.50 234.60,454.60 238.50,457.70 240.80,460.00 242.30,462.00 245.40,464.60 249.20,466.20 254.60,467.70 260.80,470.00 266.90,472.80 269.20,474.60 273.10,476.20 282.30,477.40 294.60,478.20 310.00,479.20 325.50,479.80 326.30,481.40 337.50,481.60 338.30,483.20 381.30,483.70" fill="none" stroke="#e89c2c" stroke-width="1.4" stroke-linejoin="round" stroke-linecap="butt"/>
<polyline points="201.60,407.80 202.30,410.70 203.80,414.50 205.70,419.30 207.60,423.20 209.10,426.50 211.00,429.40 213.40,432.80 216.30,436.60 219.20,440.50 222.00,445.30 224.60,450.40 226.30,456.10 228.10,460.20 230.00,461.00 234.60,464.60 239.20,469.70 243.80,470.80 251.50,472.30 259.20,474.60 265.40,476.20 270.00,477.70 283.80,478.50 299.20,478.90 310.00,479.40 326.00,479.70 336.30,480.20 381.30,481.40" fill="none" stroke="#3ca33a" stroke-width="1.4" stroke-linejoin="round" stroke-linecap="butt"/>
<polyline points="201.60,406.30 216.20,406.30 216.60,409.50 216.90,412.30 218.10,412.50 218.40,415.50 221.90,415.50 222.50,421.50 224.00,421.90 224.80,424.60 225.90,428.30 227.50,428.30 227.80,437.30 232.00,437.30 232.60,440.80 381.20,440.80" fill="none" stroke="#c03385" stroke-width="1.4" stroke-linejoin="round" stroke-linecap="butt"/>
<line x1="242.3" y1="440.8" x2="242.3" y2="438.8" stroke="#1a1a1a" stroke-width="0.9"/>
<line x1="244.8" y1="440.8" x2="244.8" y2="438.8" stroke="#1a1a1a" stroke-width="0.9"/>
<line x1="252.2" y1="440.8" x2="252.2" y2="438.8" stroke="#1a1a1a" stroke-width="0.9"/>
<line x1="254" y1="440.8" x2="254" y2="438.8" stroke="#1a1a1a" stroke-width="0.9"/>
<line x1="258.3" y1="440.8" x2="258.3" y2="438.8" stroke="#1a1a1a" stroke-width="0.9"/>
<line x1="276.2" y1="440.8" x2="276.2" y2="438.8" stroke="#1a1a1a" stroke-width="0.9"/>
<line x1="290" y1="440.8" x2="290" y2="438.8" stroke="#1a1a1a" stroke-width="0.9"/>
<line x1="337.7" y1="440.8" x2="337.7" y2="438.8" stroke="#1a1a1a" stroke-width="0.9"/>
<line x1="339.8" y1="440.8" x2="339.8" y2="438.8" stroke="#1a1a1a" stroke-width="0.9"/>
<line x1="351.5" y1="440.8" x2="351.5" y2="438.8" stroke="#1a1a1a" stroke-width="0.9"/>
<line x1="354.6" y1="440.8" x2="354.6" y2="438.8" stroke="#1a1a1a" stroke-width="0.9"/>
<line x1="240.5" y1="458.8" x2="240.5" y2="456.8" stroke="#1a1a1a" stroke-width="0.9"/>
<line x1="242" y1="461.3" x2="242" y2="459.3" stroke="#1a1a1a" stroke-width="0.9"/>
<line x1="268.5" y1="473.5" x2="268.5" y2="471.5" stroke="#1a1a1a" stroke-width="0.9"/>
<line x1="278.5" y1="476.8" x2="278.5" y2="474.8" stroke="#1a1a1a" stroke-width="0.9"/>
<line x1="306.9" y1="479" x2="306.9" y2="477.0" stroke="#1a1a1a" stroke-width="0.9"/>
<line x1="310.4" y1="479.2" x2="310.4" y2="477.2" stroke="#1a1a1a" stroke-width="0.9"/>
<line x1="315.6" y1="479.5" x2="315.6" y2="477.5" stroke="#1a1a1a" stroke-width="0.9"/>
<line x1="362.3" y1="483.6" x2="362.3" y2="481.6" stroke="#1a1a1a" stroke-width="0.9"/>
<line x1="369.2" y1="483.6" x2="369.2" y2="481.6" stroke="#1a1a1a" stroke-width="0.9"/>
<line x1="251.5" y1="472.3" x2="251.5" y2="470.3" stroke="#1a1a1a" stroke-width="0.9"/>
<line x1="273.5" y1="477.6" x2="273.5" y2="475.6" stroke="#1a1a1a" stroke-width="0.9"/>
<line x1="358" y1="479.9" x2="358" y2="477.9" stroke="#1a1a1a" stroke-width="0.9"/>
<line x1="364" y1="480" x2="364" y2="478.0" stroke="#1a1a1a" stroke-width="0.9"/>
<line x1="374.4" y1="480.2" x2="374.4" y2="478.2" stroke="#1a1a1a" stroke-width="0.9"/>
<line x1="288.2" y1="404.6" x2="302.9" y2="404.6" stroke="#3ca33a" stroke-width="1.5"/>
<line x1="288.2" y1="415.3" x2="302.9" y2="415.3" stroke="#c03385" stroke-width="1.4"/>
<line x1="288.2" y1="426.3" x2="302.9" y2="426.3" stroke="#e89c2c" stroke-width="1.5"/>
<text x="306.05" y="406.5" font-size="7.4" textLength="65.01" lengthAdjust="spacingAndGlyphs" fill="#2e2e2e">Therapy w/o alloSCT</text>
<text x="305.91" y="417.2" font-size="7.4" textLength="24.75" lengthAdjust="spacingAndGlyphs" fill="#2e2e2e">alloSCT</text>
<text x="305.62" y="428.3" font-size="7.4" textLength="79.39" lengthAdjust="spacingAndGlyphs" fill="#2e2e2e">Best supportive care only</text>
<text x="204.58" y="486.1" font-size="8" textLength="27.98" lengthAdjust="spacingAndGlyphs" fill="#2e2e2e"><tspan font-style="italic">P</tspan> &lt; .001</text>
<text x="150.19" y="528.8" font-size="8" textLength="33.6" lengthAdjust="spacingAndGlyphs" fill="#2e2e2e">No. at risk</text>
<text x="133.74" y="540.4" font-size="8" textLength="50.24" lengthAdjust="spacingAndGlyphs" fill="#2e2e2e">Tx w/o alloSCT</text>
<text x="156.68" y="551.6" font-size="8" textLength="27.3" lengthAdjust="spacingAndGlyphs" fill="#2e2e2e">alloSCT</text>
<text x="151.26" y="562.9" font-size="8" textLength="32.56" lengthAdjust="spacingAndGlyphs" fill="#2e2e2e">BSC only</text>
<text x="201.6" y="540.4" font-size="8" text-anchor="middle" fill="#2e2e2e">221</text>
<text x="219.59" y="540.4" font-size="8" text-anchor="middle" fill="#2e2e2e">132</text>
<text x="237.58" y="540.4" font-size="8" text-anchor="middle" fill="#2e2e2e">64</text>
<text x="255.57" y="540.4" font-size="8" text-anchor="middle" fill="#2e2e2e">46</text>
<text x="273.56" y="540.4" font-size="8" text-anchor="middle" fill="#2e2e2e">33</text>
<text x="291.55" y="540.4" font-size="8" text-anchor="middle" fill="#2e2e2e">31</text>
<text x="309.54" y="540.4" font-size="8" text-anchor="middle" fill="#2e2e2e">28</text>
<text x="327.53" y="540.4" font-size="8" text-anchor="middle" fill="#2e2e2e">28</text>
<text x="345.52" y="540.4" font-size="8" text-anchor="middle" fill="#2e2e2e">26</text>
<text x="363.51" y="540.4" font-size="8" text-anchor="middle" fill="#2e2e2e">24</text>
<text x="381.5" y="540.4" font-size="8" text-anchor="middle" fill="#2e2e2e">21</text>
<text x="201.6" y="551.8" font-size="8" text-anchor="middle" fill="#2e2e2e">27</text>
<text x="219.59" y="551.8" font-size="8" text-anchor="middle" fill="#2e2e2e">24</text>
<text x="237.58" y="551.8" font-size="8" text-anchor="middle" fill="#2e2e2e">16</text>
<text x="255.57" y="551.8" font-size="8" text-anchor="middle" fill="#2e2e2e">12</text>
<text x="273.56" y="551.8" font-size="8" text-anchor="middle" fill="#2e2e2e">11</text>
<text x="291.55" y="551.8" font-size="8" text-anchor="middle" fill="#2e2e2e">9</text>
<text x="309.54" y="551.8" font-size="8" text-anchor="middle" fill="#2e2e2e">9</text>
<text x="327.53" y="551.8" font-size="8" text-anchor="middle" fill="#2e2e2e">9</text>
<text x="345.52" y="551.8" font-size="8" text-anchor="middle" fill="#2e2e2e">7</text>
<text x="363.51" y="551.8" font-size="8" text-anchor="middle" fill="#2e2e2e">5</text>
<text x="381.5" y="551.8" font-size="8" text-anchor="middle" fill="#2e2e2e">5</text>
<text x="201.6" y="563.2" font-size="8" text-anchor="middle" fill="#2e2e2e">99</text>
<text x="219.59" y="563.2" font-size="8" text-anchor="middle" fill="#2e2e2e">56</text>
<text x="237.58" y="563.2" font-size="8" text-anchor="middle" fill="#2e2e2e">41</text>
<text x="255.57" y="563.2" font-size="8" text-anchor="middle" fill="#2e2e2e">26</text>
<text x="273.56" y="563.2" font-size="8" text-anchor="middle" fill="#2e2e2e">16</text>
<text x="291.55" y="563.2" font-size="8" text-anchor="middle" fill="#2e2e2e">13</text>
<text x="309.54" y="563.2" font-size="8" text-anchor="middle" fill="#2e2e2e">10</text>
<text x="327.53" y="563.2" font-size="8" text-anchor="middle" fill="#2e2e2e">6</text>
<text x="345.52" y="563.2" font-size="8" text-anchor="middle" fill="#2e2e2e">5</text>
<text x="363.51" y="563.2" font-size="8" text-anchor="middle" fill="#2e2e2e">4</text>
<text x="381.5" y="563.2" font-size="8" text-anchor="middle" fill="#2e2e2e">3</text>
<rect x="0.5" y="0.5" width="519" height="571" fill="none" stroke="#555" stroke-width="1"/>
</svg></body></html>
